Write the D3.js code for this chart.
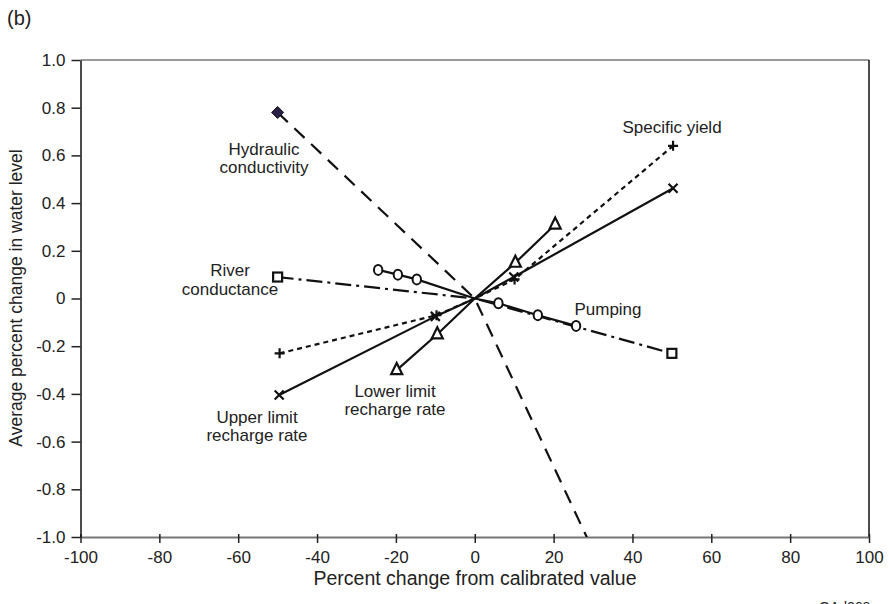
<!DOCTYPE html>
<html><head><meta charset="utf-8">
<script src="https://cdn.jsdelivr.net/npm/d3@7"></script>
<style>body{margin:0;background:#fff}svg{display:block}text{font-family:"Liberation Sans",Arial,sans-serif;fill:#222}</style>
</head><body>
<script>
const xTicks = [-100,-80,-60,-40,-20,0,20,40,60,80,100];
const yTicks = [-1.0,-0.8,-0.6,-0.4,-0.2,0,0.2,0.4,0.6,0.8,1.0];
const hydraulicX = [-50, 0, 50];
const hydraulicY = [0.78, 0, -1.76];
const riverX = [-50, 0, 50];
const riverY = [0.09, 0, -0.23];
const pumpingX = [-24.5, -19.5, -14.7, 0, 6, 16, 25.7];
const pumpingY = [0.12, 0.10, 0.08, 0, -0.02, -0.07, -0.115];
const specificX = [-49.5, -9.7, 0, 10.1, 50.3];
const specificY = [-0.23, -0.07, 0, 0.08, 0.64];
const upperX = [-49.6, -10, 0, 9.9, 50.3];
const upperY = [-0.405, -0.075, 0, 0.09, 0.462];
const lowerX = [-19.8, -9.5, 0, 10.3, 20.4];
const lowerY = [-0.30, -0.15, 0, 0.15, 0.31];

const W = 889, H = 604;
const FONT = "Liberation Sans, Arial, sans-serif";
const svg = d3.select("body").append("svg").attr("width", W).attr("height", H);
const x = d3.scaleLinear().domain([-100, 100]).range([80.5, 869]);
const y = d3.scaleLinear().domain([-1, 1]).range([537, 60]);

svg.append("defs").append("clipPath").attr("id","clip").append("rect")
  .attr("x", x(-100)).attr("y", y(1)).attr("width", x(100)-x(-100)).attr("height", y(-1)-y(1));

// frame
svg.append("line").attr("x1",x(-100)).attr("x2",x(100)).attr("y1",y(1)).attr("y2",y(1)).attr("stroke","#777").attr("stroke-width",1.5);
svg.append("line").attr("x1",x(100)).attr("x2",x(100)).attr("y1",y(1)).attr("y2",y(-1)).attr("stroke","#111").attr("stroke-width",1.5);

const xAxis = svg.append("g").attr("transform",`translate(0,${y(-1)})`)
  .call(d3.axisBottom(x).tickValues(xTicks).tickSize(6).tickSizeOuter(0).tickPadding(8).tickFormat(d => String(d)));
xAxis.select(".domain").attr("stroke","#777").attr("stroke-width",2);
xAxis.selectAll(".tick line").attr("stroke","#222").attr("stroke-width",1.5).attr("y1",-3);
xAxis.selectAll("text").attr("font-size",17).attr("fill","#222").style("font-family",FONT);

const yAxis = svg.append("g").attr("transform",`translate(${x(-100)},0)`)
  .call(d3.axisLeft(y).tickValues(yTicks).tickSize(9).tickSizeOuter(0).tickPadding(6).tickFormat(d => d === 0 ? "0" : d.toFixed(1)));
yAxis.select(".domain").attr("stroke","#111").attr("stroke-width",1.5);
yAxis.selectAll(".tick line").attr("stroke","#222").attr("stroke-width",1.5);
yAxis.selectAll("text").attr("font-size",17).attr("fill","#222").style("font-family",FONT);

const line = d3.line().x(d => x(d[0])).y(d => y(d[1]));
const zip = (a, b) => a.map((v, i) => [v, b[i]]);
const plot = svg.append("g").attr("clip-path","url(#clip)");

function drawLine(pts, dash) {
  plot.append("path").datum(pts).attr("d", line).attr("fill","none")
    .attr("stroke","#111").attr("stroke-width",2.2).attr("stroke-dasharray", dash || null);
}
drawLine(zip(hydraulicX, hydraulicY), "14,9");
drawLine(zip(riverX, riverY), "16,5,3,5");
drawLine(zip(pumpingX, pumpingY), null);
drawLine(zip(specificX, specificY), "5,4");
drawLine(zip(upperX, upperY), null);
drawLine(zip(lowerX, lowerY), null);

// markers
const mk = svg.append("g").attr("clip-path","url(#clip)");
function plus(px, py) {
  mk.append("path").attr("d",`M${x(px)-5},${y(py)}h10M${x(px)},${y(py)-5}v10`).attr("stroke","#111").attr("stroke-width",2.2);
}
function cross(px, py) {
  const cx = x(px), cy = y(py), r = 4.5;
  mk.append("path").attr("d",`M${cx-r},${cy-r}L${cx+r},${cy+r}M${cx-r},${cy+r}L${cx+r},${cy-r}`).attr("stroke","#111").attr("stroke-width",2.2);
}
hydraulicX.forEach((v,i) => {
  const cx = x(v), cy = y(hydraulicY[i]);
  if (v !== 0) mk.append("path").attr("d",`M${cx},${cy-6}L${cx+6},${cy}L${cx},${cy+6}L${cx-6},${cy}Z`).attr("fill","#2a1f47").attr("stroke","#111").attr("stroke-width",1);
});
riverX.forEach((v,i) => { if (v !== 0) mk.append("rect").attr("x",x(v)-4.5).attr("y",y(riverY[i])-4.5).attr("width",9).attr("height",9).attr("fill","#fff").attr("stroke","#111").attr("stroke-width",2.2); });
pumpingX.forEach((v,i) => { if (v !== 0) mk.append("ellipse").attr("cx",x(v)).attr("cy",y(pumpingY[i])).attr("rx",4.2).attr("ry",5).attr("fill","#fff").attr("stroke","#111").attr("stroke-width",2); });
specificX.forEach((v,i) => { if (v !== 0) plus(v, specificY[i]); });
upperX.forEach((v,i) => { if (v !== 0) cross(v, upperY[i]); });
lowerX.forEach((v,i) => {
  if (v === 0) return;
  const cx = x(v), cy = y(lowerY[i]);
  mk.append("path").attr("d",`M${cx},${cy-7}L${cx+5.5},${cy+4}L${cx-5.5},${cy+4}Z`).attr("fill","#fff").attr("stroke","#111").attr("stroke-width",2.2);
});

// labels
const labels = [
  {t:"Hydraulic", x:264, y:155}, {t:"conductivity", x:264, y:173},
  {t:"River", x:230, y:276}, {t:"conductance", x:230, y:295},
  {t:"Specific yield", x:672, y:133},
  {t:"Pumping", x:608, y:315},
  {t:"Lower limit", x:395, y:397}, {t:"recharge rate", x:395, y:415},
  {t:"Upper limit", x:257, y:423}, {t:"recharge rate", x:257, y:441}
];
svg.append("g").selectAll("text").data(labels).join("text")
  .attr("x", d => d.x).attr("y", d => d.y).attr("text-anchor","middle").attr("font-size",17).text(d => d.t);

svg.append("text").attr("x",475).attr("y",585).attr("text-anchor","middle").attr("font-size",19.5).text("Percent change from calibrated value");
svg.append("text").attr("transform","translate(22,298) rotate(-90)").attr("text-anchor","middle").attr("font-size",17.5).text("Average percent change in water level");
svg.append("text").attr("x",7).attr("y",25).attr("font-size",20).text("(b)");
svg.append("text").attr("x",819).attr("y",612).attr("font-size",14).text("OAd268c");
</script>
</body></html>
